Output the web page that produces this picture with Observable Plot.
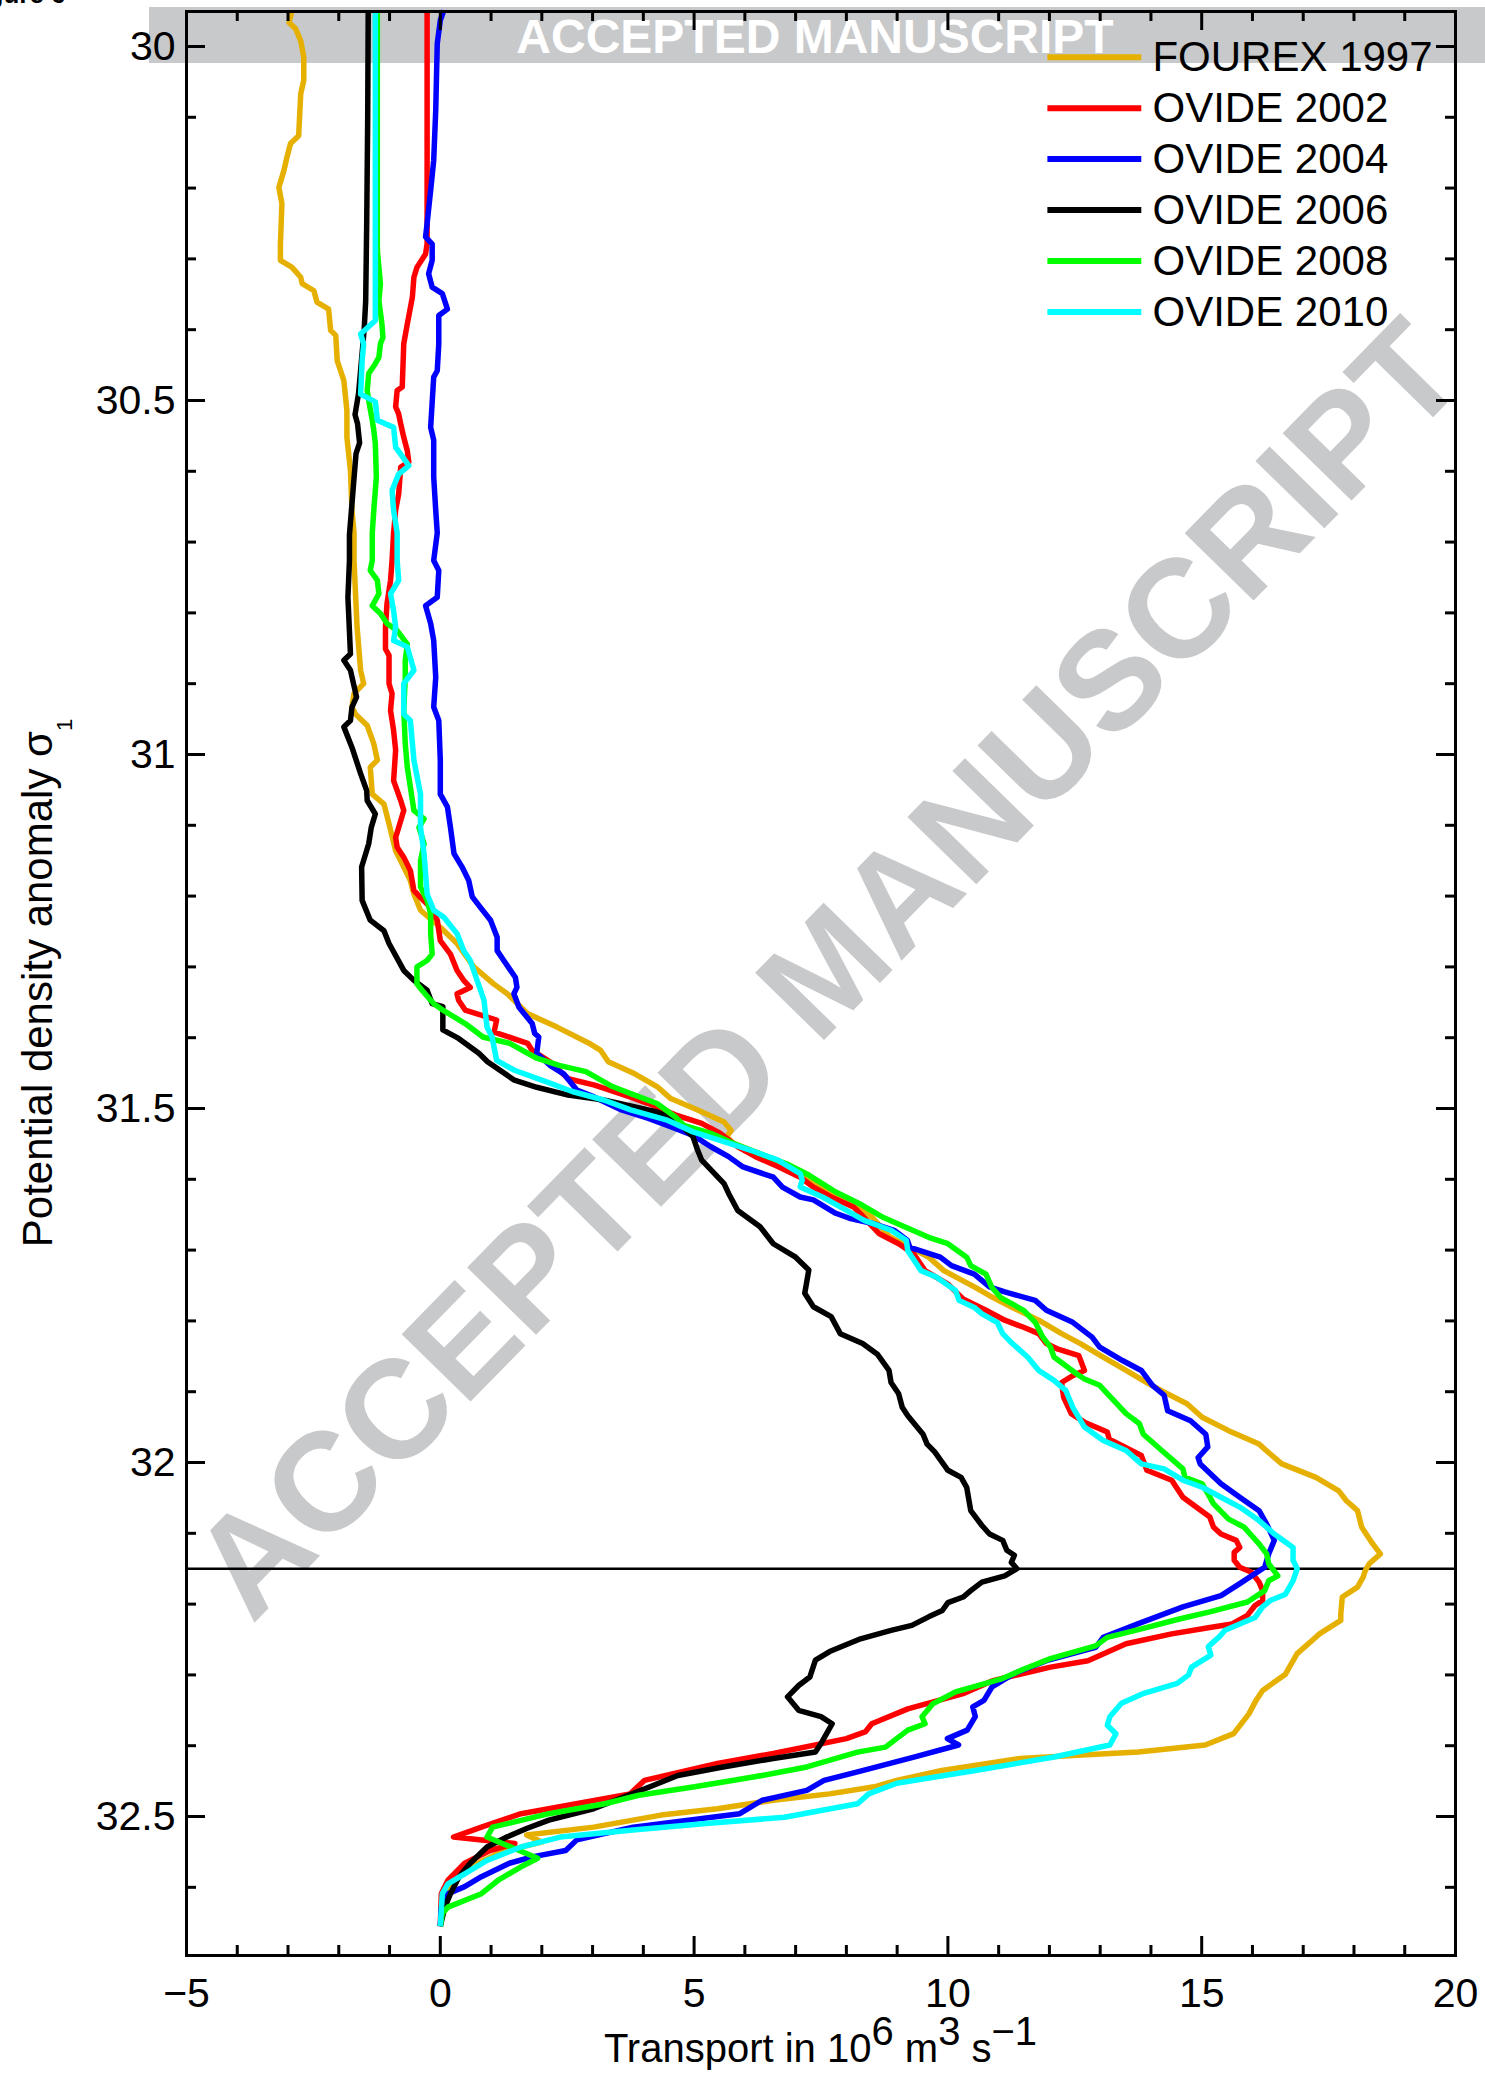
<!DOCTYPE html>
<html>
<head>
<meta charset="utf-8">
<script src="https://cdn.jsdelivr.net/npm/d3@7"></script>
<script src="https://cdn.jsdelivr.net/npm/@observablehq/plot@0.6"></script>
<style>
html, body { margin: 0; padding: 0; background: #ffffff; }
#chart { width: 1485px; height: 2081px; }
</style>
</head>
<body>
<div id="chart"></div>
<script>
// ---------------- data (sigma_1, transport in Sv) ----------------
const seriesNames  = ["FOUREX 1997", "OVIDE 2002", "OVIDE 2004", "OVIDE 2006", "OVIDE 2008", "OVIDE 2010"];
const seriesColors = ["#e6b000", "#ff0000", "#0000ff", "#000000", "#00ff00", "#00ffff"];

const FOUREX_1997 = [[29.949,-2.92],[29.966,-2.98],[29.975,-2.85],[29.992,-2.75],[30.015,-2.69],[30.048,-2.69],[30.067,-2.75],[30.126,-2.79],[30.137,-2.95],[30.156,-3.02],[30.175,-3.08],[30.199,-3.18],[30.222,-3.12],[30.279,-3.15],[30.302,-3.15],[30.312,-2.92],[30.326,-2.75],[30.335,-2.72],[30.345,-2.49],[30.361,-2.43],[30.371,-2.20],[30.401,-2.16],[30.408,-2.06],[30.444,-2.03],[30.472,-1.90],[30.514,-1.84],[30.552,-1.84],[30.599,-1.77],[30.655,-1.74],[30.687,-1.70],[30.726,-1.70],[30.773,-1.67],[30.820,-1.64],[30.881,-1.57],[30.900,-1.51],[30.914,-1.70],[30.933,-1.74],[30.943,-1.67],[30.959,-1.44],[30.985,-1.31],[31.008,-1.24],[31.018,-1.38],[31.056,-1.34],[31.070,-1.11],[31.098,-1.01],[31.136,-0.88],[31.159,-0.72],[31.178,-0.59],[31.197,-0.52],[31.220,-0.39],[31.244,0.00],[31.267,0.33],[31.300,0.66],[31.324,1.05],[31.338,1.32],[31.366,1.72],[31.385,2.30],[31.409,2.96],[31.418,3.16],[31.434,3.31],[31.451,3.83],[31.469,4.27],[31.486,4.54],[31.502,5.07],[31.519,5.59],[31.531,5.73],[31.540,5.64],[31.549,5.77],[31.564,6.30],[31.578,6.74],[31.597,7.18],[31.615,7.62],[31.634,8.06],[31.653,8.50],[31.681,8.85],[31.696,9.25],[31.710,9.62],[31.729,9.92],[31.752,10.52],[31.767,10.89],[31.781,11.27],[31.799,11.79],[31.818,12.24],[31.832,12.61],[31.851,13.06],[31.870,13.51],[31.889,13.96],[31.903,14.33],[31.917,14.71],[31.936,15.01],[31.955,15.53],[31.974,16.13],[31.988,16.35],[32.002,16.58],[32.021,17.25],[32.040,17.70],[32.054,17.85],[32.068,18.07],[32.091,18.15],[32.115,18.37],[32.129,18.52],[32.143,18.30],[32.153,18.22],[32.162,18.18],[32.176,18.07],[32.190,17.77],[32.214,17.74],[32.223,17.74],[32.242,17.32],[32.251,17.18],[32.270,16.88],[32.299,16.65],[32.322,16.20],[32.336,16.07],[32.355,15.93],[32.383,15.63],[32.399,15.07],[32.409,13.75],[32.413,12.64],[32.418,11.43],[32.435,9.88],[32.449,8.99],[32.458,8.55],[32.468,7.67],[32.477,6.56],[32.489,5.46],[32.498,4.35],[32.515,3.02],[32.526,1.70],[32.536,2.00],[32.550,1.20],[32.571,0.60],[32.590,0.30],[32.609,0.10],[32.655,0.00]];

const OVIDE_2002 = [[29.949,-0.26],[30.269,-0.26],[30.279,-0.26],[30.293,-0.29],[30.312,-0.46],[30.326,-0.52],[30.354,-0.55],[30.392,-0.65],[30.420,-0.72],[30.481,-0.75],[30.486,-0.85],[30.509,-0.88],[30.519,-0.82],[30.533,-0.78],[30.552,-0.72],[30.571,-0.65],[30.587,-0.62],[30.594,-0.78],[30.632,-0.82],[30.655,-0.88],[30.687,-0.92],[30.726,-0.95],[30.754,-0.98],[30.787,-1.05],[30.820,-1.08],[30.851,-1.08],[30.860,-1.01],[30.900,-1.01],[30.914,-0.95],[30.938,-0.98],[30.966,-0.92],[30.994,-0.88],[31.037,-0.92],[31.065,-0.78],[31.079,-0.72],[31.103,-0.82],[31.117,-0.88],[31.131,-0.85],[31.145,-0.72],[31.164,-0.59],[31.192,-0.52],[31.202,-0.39],[31.216,-0.19],[31.234,-0.06],[31.263,0.00],[31.282,0.20],[31.305,0.33],[31.319,0.46],[31.329,0.59],[31.338,0.33],[31.347,0.36],[31.361,0.49],[31.375,1.11],[31.392,1.06],[31.408,1.72],[31.418,1.81],[31.434,2.16],[31.458,2.52],[31.467,3.04],[31.484,3.75],[31.493,4.10],[31.509,4.63],[31.521,5.15],[31.535,5.51],[31.554,5.86],[31.568,6.21],[31.582,6.65],[31.597,7.09],[31.611,7.35],[31.625,7.70],[31.639,8.14],[31.649,8.28],[31.677,8.65],[31.691,9.03],[31.705,9.32],[31.729,9.55],[31.748,10.00],[31.769,10.30],[31.785,10.75],[31.799,11.12],[31.809,11.49],[31.818,11.79],[31.832,11.94],[31.840,12.17],[31.849,12.58],[31.870,12.69],[31.877,12.47],[31.887,12.24],[31.908,12.28],[31.931,12.43],[31.943,12.69],[31.957,13.14],[31.967,13.18],[31.990,13.81],[32.011,13.92],[32.025,14.41],[32.049,14.63],[32.077,15.16],[32.091,15.23],[32.101,15.38],[32.110,15.68],[32.120,15.75],[32.127,15.64],[32.138,15.64],[32.148,15.75],[32.155,15.98],[32.169,16.13],[32.181,16.20],[32.195,16.20],[32.202,16.05],[32.216,15.90],[32.228,15.60],[32.233,15.16],[32.242,14.41],[32.256,13.51],[32.280,12.76],[32.289,12.02],[32.299,11.42],[32.308,10.89],[32.326,10.32],[32.348,9.21],[32.369,8.50],[32.380,8.38],[32.390,8.00],[32.411,6.56],[32.425,5.46],[32.449,4.02],[32.468,3.74],[32.496,1.59],[32.515,0.81],[32.529,0.26],[32.538,1.47],[32.548,0.98],[32.566,0.48],[32.590,0.15],[32.609,0.02],[32.655,0.00]];

const OVIDE_2004 = [[29.949,0.07],[29.963,0.00],[29.996,-0.06],[30.090,-0.09],[30.161,-0.13],[30.203,-0.19],[30.250,-0.26],[30.269,-0.29],[30.279,-0.16],[30.302,-0.16],[30.321,-0.23],[30.340,-0.16],[30.349,0.04],[30.371,0.14],[30.380,-0.03],[30.420,-0.03],[30.458,-0.06],[30.467,-0.13],[30.538,-0.19],[30.556,-0.13],[30.608,-0.13],[30.655,-0.09],[30.687,-0.06],[30.726,-0.13],[30.740,-0.03],[30.778,-0.06],[30.790,-0.29],[30.815,-0.19],[30.839,-0.13],[30.891,-0.09],[30.933,-0.13],[30.952,-0.03],[31.008,0.00],[31.056,0.00],[31.074,0.14],[31.103,0.20],[31.140,0.27],[31.159,0.43],[31.178,0.56],[31.201,0.63],[31.216,0.79],[31.234,0.99],[31.258,1.12],[31.277,1.12],[31.291,1.25],[31.315,1.48],[31.329,1.51],[31.338,1.45],[31.357,1.55],[31.380,1.81],[31.394,1.86],[31.399,1.94],[31.422,1.90],[31.439,2.16],[31.451,2.43],[31.474,2.69],[31.484,3.04],[31.502,3.57],[31.514,4.10],[31.528,4.63],[31.538,4.98],[31.554,5.33],[31.568,5.68],[31.582,5.95],[31.597,6.56],[31.611,6.74],[31.625,7.09],[31.629,7.35],[31.648,7.79],[31.655,8.06],[31.662,8.50],[31.672,8.94],[31.686,9.20],[31.696,9.25],[31.710,9.85],[31.722,10.07],[31.734,10.52],[31.752,10.82],[31.759,11.12],[31.771,11.72],[31.785,11.94],[31.802,12.46],[31.823,12.84],[31.837,12.99],[31.856,13.44],[31.870,13.81],[31.891,14.03],[31.905,14.26],[31.927,14.33],[31.941,14.78],[31.960,15.08],[31.978,15.12],[31.993,14.93],[32.002,14.97],[32.030,15.38],[32.049,15.75],[32.068,16.13],[32.087,16.28],[32.110,16.43],[32.129,16.32],[32.148,16.24],[32.171,15.75],[32.188,15.38],[32.204,14.63],[32.228,13.74],[32.247,13.06],[32.261,12.91],[32.279,11.98],[32.298,11.31],[32.317,10.87],[32.336,10.71],[32.345,10.49],[32.359,10.54],[32.378,10.38],[32.390,9.99],[32.399,10.21],[32.416,9.33],[32.437,8.22],[32.449,7.56],[32.463,7.22],[32.477,6.34],[32.496,5.90],[32.515,3.80],[32.533,2.69],[32.548,2.47],[32.557,1.81],[32.566,1.36],[32.585,0.81],[32.599,0.48],[32.609,0.15],[32.628,0.02],[32.655,0.00]];

const OVIDE_2006 = [[29.949,-1.42],[30.100,-1.43],[30.250,-1.45],[30.360,-1.47],[30.400,-1.50],[30.490,-1.61],[30.520,-1.68],[30.533,-1.63],[30.560,-1.59],[30.575,-1.66],[30.610,-1.70],[30.690,-1.79],[30.726,-1.79],[30.778,-1.82],[30.858,-1.77],[30.867,-1.90],[30.881,-1.77],[30.919,-1.65],[30.933,-1.74],[30.952,-1.77],[30.961,-1.90],[30.990,-1.74],[31.027,-1.57],[31.051,-1.45],[31.065,-1.44],[31.084,-1.28],[31.103,-1.36],[31.126,-1.41],[31.159,-1.55],[31.206,-1.54],[31.234,-1.38],[31.249,-1.11],[31.267,-1.01],[31.305,-0.72],[31.319,-0.52],[31.333,-0.26],[31.352,-0.16],[31.356,0.05],[31.389,0.05],[31.401,0.36],[31.422,0.76],[31.434,0.93],[31.460,1.46],[31.470,1.90],[31.481,2.52],[31.488,3.22],[31.495,3.66],[31.505,4.27],[31.516,4.63],[31.540,4.98],[31.559,5.07],[31.573,5.15],[31.606,5.59],[31.620,5.68],[31.644,5.86],[31.667,6.30],[31.691,6.56],[31.710,7.00],[31.728,7.26],[31.761,7.18],[31.780,7.35],[31.794,7.70],[31.818,7.88],[31.832,8.32],[31.847,8.61],[31.870,8.84],[31.887,8.88],[31.903,9.03],[31.922,9.10],[31.934,9.21],[31.960,9.51],[31.974,9.59],[31.985,9.74],[32.011,10.00],[32.021,10.26],[32.035,10.37],[32.068,10.45],[32.089,10.67],[32.101,10.82],[32.110,11.08],[32.124,11.16],[32.131,11.31],[32.141,11.25],[32.150,11.36],[32.160,11.12],[32.169,10.67],[32.181,10.45],[32.190,10.30],[32.198,10.00],[32.209,9.89],[32.218,9.62],[32.230,9.29],[32.237,8.88],[32.249,8.28],[32.267,7.67],[32.279,7.39],[32.303,7.28],[32.315,7.06],[32.331,6.84],[32.350,7.06],[32.359,7.50],[32.369,7.72],[32.383,7.61],[32.397,7.50],[32.409,7.39],[32.418,6.56],[32.430,5.57],[32.442,4.68],[32.458,4.13],[32.489,3.02],[32.505,2.14],[32.517,1.70],[32.529,1.31],[32.543,0.92],[32.566,0.59],[32.585,0.37],[32.609,0.20],[32.628,0.09],[32.655,0.00]];

const OVIDE_2008 = [[29.949,-1.24],[30.288,-1.24],[30.335,-1.18],[30.359,-1.21],[30.392,-1.15],[30.411,-1.13],[30.420,-1.18],[30.439,-1.21],[30.448,-1.28],[30.462,-1.41],[30.486,-1.44],[30.500,-1.41],[30.528,-1.34],[30.542,-1.31],[30.561,-1.28],[30.608,-1.26],[30.655,-1.31],[30.687,-1.34],[30.726,-1.34],[30.740,-1.38],[30.754,-1.24],[30.773,-1.21],[30.790,-1.34],[30.801,-1.18],[30.815,-1.05],[30.825,-0.85],[30.844,-0.65],[30.867,-0.69],[30.891,-0.69],[30.938,-0.72],[30.985,-0.69],[31.018,-0.65],[31.046,-0.59],[31.079,-0.52],[31.091,-0.32],[31.103,-0.42],[31.126,-0.32],[31.150,-0.39],[31.187,-0.39],[31.206,-0.26],[31.225,-0.19],[31.253,-0.19],[31.282,-0.16],[31.291,-0.26],[31.300,-0.46],[31.324,-0.46],[31.333,-0.36],[31.352,-0.13],[31.361,0.05],[31.380,0.49],[31.399,0.84],[31.408,1.37],[31.429,1.90],[31.439,2.34],[31.448,2.87],[31.469,3.39],[31.479,3.75],[31.493,4.27],[31.512,4.63],[31.524,4.80],[31.535,5.33],[31.549,5.77],[31.564,6.30],[31.578,6.82],[31.594,7.26],[31.618,7.79],[31.636,8.30],[31.654,8.73],[31.668,9.18],[31.682,9.62],[31.691,10.00],[31.710,10.37],[31.722,10.45],[31.734,10.75],[31.752,10.86],[31.767,11.04],[31.785,11.49],[31.802,11.72],[31.823,11.87],[31.837,12.02],[31.851,12.09],[31.875,12.54],[31.882,12.69],[31.891,12.99],[31.908,13.21],[31.931,13.51],[31.945,13.77],[31.960,13.85],[31.981,14.18],[32.009,14.63],[32.021,14.67],[32.030,15.01],[32.049,15.16],[32.058,15.23],[32.080,15.53],[32.091,15.83],[32.115,16.13],[32.129,16.28],[32.143,16.32],[32.160,16.50],[32.167,16.32],[32.181,16.24],[32.190,16.05],[32.197,15.90],[32.211,15.16],[32.221,14.56],[32.235,13.81],[32.247,13.14],[32.259,12.91],[32.277,12.02],[32.292,11.49],[32.306,11.04],[32.324,10.15],[32.341,9.70],[32.359,9.49],[32.369,9.55],[32.378,9.21],[32.402,8.77],[32.409,8.22],[32.430,7.22],[32.442,6.34],[32.458,5.01],[32.470,3.91],[32.482,3.24],[32.496,2.14],[32.515,1.03],[32.529,0.92],[32.559,1.92],[32.571,1.59],[32.590,1.14],[32.609,0.81],[32.628,0.15],[32.637,0.04],[32.655,0.00]];

const OVIDE_2010 = [[29.949,-1.28],[30.387,-1.28],[30.406,-1.57],[30.420,-1.51],[30.444,-1.54],[30.491,-1.57],[30.502,-1.28],[30.528,-1.24],[30.538,-0.92],[30.566,-0.88],[30.592,-0.62],[30.604,-0.82],[30.627,-0.95],[30.655,-0.92],[30.687,-0.85],[30.726,-0.85],[30.754,-0.82],[30.773,-0.98],[30.797,-0.92],[30.820,-0.88],[30.839,-0.92],[30.848,-0.65],[30.881,-0.52],[30.900,-0.72],[30.943,-0.72],[30.952,-0.59],[31.008,-0.52],[31.056,-0.39],[31.103,-0.39],[31.140,-0.32],[31.197,-0.26],[31.220,-0.13],[31.230,0.07],[31.253,0.33],[31.277,0.46],[31.291,0.59],[31.347,0.86],[31.385,0.92],[31.399,1.02],[31.432,1.11],[31.446,1.46],[31.462,2.08],[31.476,2.60],[31.488,3.22],[31.502,3.75],[31.516,4.45],[31.533,4.98],[31.545,5.51],[31.559,6.12],[31.573,6.65],[31.592,7.09],[31.601,7.13],[31.611,7.09],[31.625,7.53],[31.639,7.88],[31.658,8.35],[31.672,8.88],[31.686,9.18],[31.701,9.21],[31.729,9.47],[31.738,9.77],[31.757,10.15],[31.771,10.22],[31.781,10.52],[31.790,10.67],[31.802,10.97],[31.818,11.08],[31.832,11.27],[31.851,11.57],[31.870,11.79],[31.884,12.09],[31.898,12.32],[31.922,12.46],[31.950,12.69],[31.969,13.06],[31.983,13.51],[32.002,13.81],[32.009,14.26],[32.025,14.63],[32.035,15.01],[32.049,15.38],[32.063,15.75],[32.082,16.13],[32.101,16.43],[32.120,16.80],[32.138,16.80],[32.150,16.88],[32.167,16.80],[32.186,16.65],[32.195,16.35],[32.204,16.20],[32.219,16.05],[32.237,15.46],[32.246,15.35],[32.260,15.13],[32.272,15.18],[32.289,14.80],[32.300,14.74],[32.312,14.52],[32.326,13.86],[32.340,13.42],[32.359,13.19],[32.371,13.14],[32.383,13.31],[32.399,13.19],[32.416,12.09],[32.435,10.54],[32.453,8.99],[32.468,8.44],[32.482,8.22],[32.501,6.78],[32.510,5.23],[32.519,3.80],[32.529,2.36],[32.543,1.59],[32.562,0.92],[32.581,0.48],[32.595,0.15],[32.609,0.04],[32.655,0.00]];

const seriesData = [FOUREX_1997, OVIDE_2002, OVIDE_2004, OVIDE_2006, OVIDE_2008, OVIDE_2010];

// axis ticks
const xMajorTicks = [-5, 0, 5, 10, 15, 20];
const xMinorTicks = [-4,-3,-2,-1,1,2,3,4,6,7,8,9,11,12,13,14,16,17,18,19];
const yMajorTicks = [30, 30.5, 31, 31.5, 32, 32.5];
const yMinorTicks = [30.1,30.2,30.3,30.4,30.6,30.7,30.8,30.9,31.1,31.2,31.3,31.4,31.6,31.7,31.8,31.9,32.1,32.2,32.3,32.4,32.6];
const referenceSigma = 32.15;

// ---------------- layout ----------------
const W = 1485, H = 2081;
const mL = 186, mR = 30, mT = 11, mB = 126;
const frameW = W - mL - mR, frameH = H - mT - mB;
const majorLen = 19, minorLen = 10;
const FONT = "'Liberation Sans', Arial, Helvetica, sans-serif";

const rows = seriesData.flatMap((d, i) => d.map(([s, t]) => ({series: seriesNames[i], sigma: s, transport: t})));

// legend layout (in data units of the plot)
const legend = seriesNames.map((name, i) => ({name, y: 30.0151 + i * 0.0720}));
const LEG_X1 = 11.96, LEG_X2 = 13.81, LEG_TX = 14.03;

const tickStyle = {stroke: "black", strokeWidth: 3};

const plot = Plot.plot({
  width: W, height: H,
  marginLeft: mL, marginRight: mR, marginTop: mT, marginBottom: mB,
  style: {fontFamily: FONT, background: "transparent", overflow: "visible"},
  x: {domain: [-5, 20], label: null},
  y: {domain: [29.9506, 32.6963], reverse: true, label: null},
  color: {domain: seriesNames, range: seriesColors},
  marks: [
    Plot.ruleY([referenceSigma], {stroke: "black", strokeWidth: 2.5}),
    Plot.line(rows, {x: "transport", y: "sigma", z: "series", stroke: "series", strokeWidth: 5.5, strokeLinejoin: "round", strokeLinecap: "butt"}),
    Plot.frame({stroke: "black", strokeWidth: 3}),
    // bottom ticks (inward)
    Plot.tickX(xMajorTicks, {x: d => d, insetTop: frameH - majorLen, ...tickStyle}),
    Plot.tickX(xMinorTicks, {x: d => d, insetTop: frameH - minorLen, ...tickStyle}),
    // top ticks
    Plot.tickX(xMajorTicks, {x: d => d, insetBottom: frameH - majorLen, ...tickStyle}),
    Plot.tickX(xMinorTicks, {x: d => d, insetBottom: frameH - minorLen, ...tickStyle}),
    // left ticks
    Plot.tickY(yMajorTicks, {y: d => d, insetRight: frameW - majorLen, ...tickStyle}),
    Plot.tickY(yMinorTicks, {y: d => d, insetRight: frameW - minorLen, ...tickStyle}),
    // right ticks
    Plot.tickY(yMajorTicks, {y: d => d, insetLeft: frameW - majorLen, ...tickStyle}),
    Plot.tickY(yMinorTicks, {y: d => d, insetLeft: frameW - minorLen, ...tickStyle}),
    // tick labels
    Plot.axisX(xMajorTicks, {anchor: "bottom", tickSize: 0, tickPadding: 22, fontSize: 41, label: null, fill: "black"}),
    Plot.axisY(yMajorTicks, {anchor: "left", tickSize: 0, tickPadding: 11, fontSize: 41, label: null, fill: "black", tickFormat: d => String(d)}),
    // legend
    Plot.link(legend, {x1: () => LEG_X1, x2: () => LEG_X2, y1: "y", y2: "y", stroke: "name", strokeWidth: 6}),
    Plot.text(legend, {x: () => LEG_TX, y: "y", text: "name", textAnchor: "start", lineAnchor: "middle", fontSize: 42, fill: "black"})
  ]
});

document.getElementById("chart").appendChild(plot);

// ---------------- decorations ----------------
const svg = d3.select(plot);
const deco = svg.insert("g", ":first-child").attr("font-family", FONT);
deco.append("rect").attr("x", 149).attr("y", 7).attr("width", W - 149).attr("height", 56).attr("fill", "#c8c9cb");
deco.append("text").attr("x", 815).attr("y", 53).attr("text-anchor", "middle")
  .attr("font-size", 48).attr("font-weight", "bold").attr("fill", "#ffffff").text("ACCEPTED MANUSCRIPT");
deco.append("text").attr("transform", "translate(825,967) rotate(-45.65)").attr("text-anchor", "middle")
  .attr("dy", "0.36em").attr("font-size", 140).attr("font-weight", "bold").attr("fill", "#c8c9cb")
  .text("ACCEPTED MANUSCRIPT");
deco.append("text").attr("x", 15).attr("y", 3).attr("font-size", 26).attr("font-weight", "bold")
  .attr("fill", "black").text("Figure 6");

// axis titles
const xt = svg.append("text").attr("font-family", FONT).attr("font-size", 40).attr("fill", "black")
  .attr("text-anchor", "middle").attr("x", mL + frameW / 2).attr("y", 2062);
xt.append("tspan").text("Transport in 10");
xt.append("tspan").attr("dy", -17).text("6");
xt.append("tspan").attr("dy", 17).text(" m");
xt.append("tspan").attr("dy", -17).text("3");
xt.append("tspan").attr("dy", 17).text(" s");
xt.append("tspan").attr("dy", -17).text("\u22121");

const yt = svg.append("text").attr("font-family", FONT).attr("font-size", 42).attr("fill", "black")
  .attr("text-anchor", "middle").attr("transform", `translate(52,${mT + frameH / 2}) rotate(-90)`);
yt.append("tspan").text("Potential density anomaly \u03c3");
yt.append("tspan").attr("dy", 20).attr("font-size", 22).text("1");
</script>
</body>
</html>
